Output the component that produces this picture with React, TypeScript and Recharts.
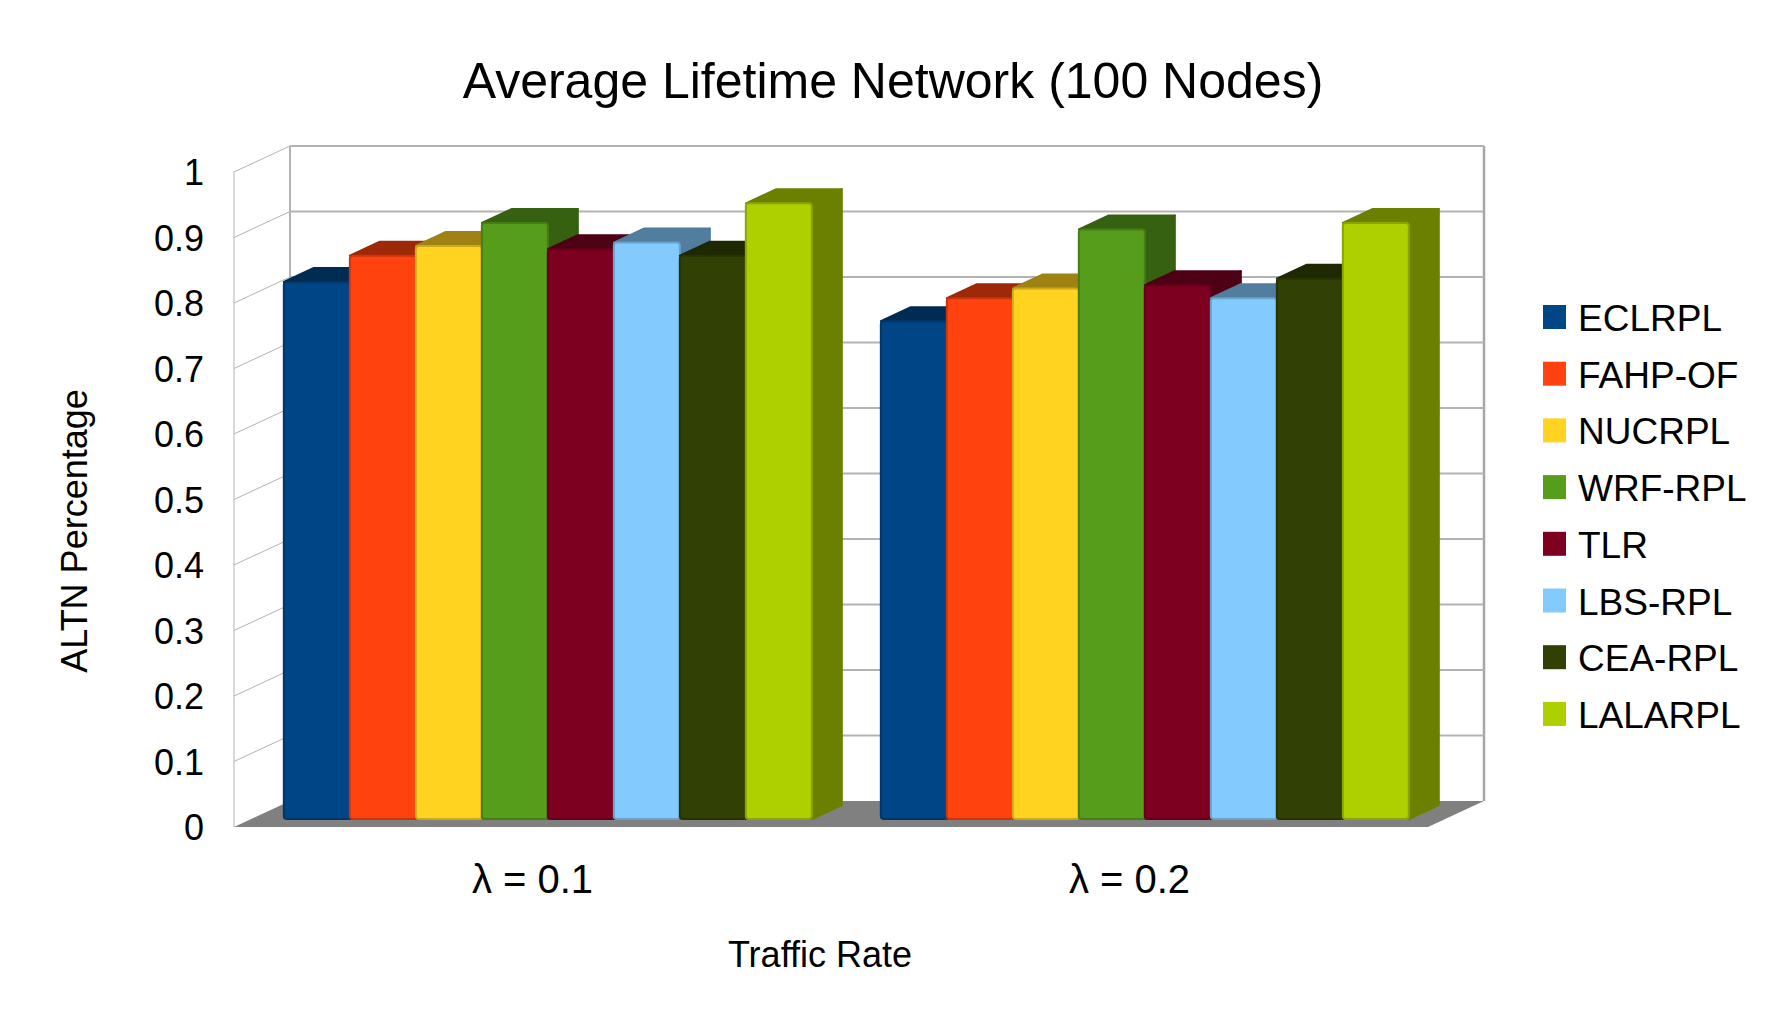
import React from 'react';
import { BarChart, Bar, XAxis, YAxis, CartesianGrid } from 'recharts';

const categories = ['λ = 0.1', 'λ = 0.2'];
const seriesNames = ['ECLRPL', 'FAHP-OF', 'NUCRPL', 'WRF-RPL', 'TLR', 'LBS-RPL', 'CEA-RPL', 'LALARPL'];
const seriesColors = ['#004586', '#ff420e', '#ffd320', '#579d1c', '#7e0021', '#83caff', '#314004', '#aecf00'];

const eclrpl = [0.82, 0.76];
const fahpOf = [0.86, 0.795];
const nucrpl = [0.875, 0.81];
const wrfRpl = [0.91, 0.90];
const tlr = [0.87, 0.815];
const lbsRpl = [0.88, 0.795];
const ceaRpl = [0.86, 0.825];
const lalarpl = [0.94, 0.91];

const seriesValues = [eclrpl, fahpOf, nucrpl, wrfRpl, tlr, lbsRpl, ceaRpl, lalarpl];
const yTicks = [0, 0.1, 0.2, 0.3, 0.4, 0.5, 0.6, 0.7, 0.8, 0.9, 1];

const data = categories.map((name, i) => {
  const row: any = { name };
  seriesNames.forEach((s, k) => {
    row[s] = seriesValues[k][i];
  });
  return row;
});

const W = 1779;
const H = 1030;
const PLOT_TOP = 172;
const PLOT_BOTTOM = 827;
const PLOT_LEFT = 234;
const PLOT_RIGHT = 1428;
// depth of the back wall and of the bars
const DX = 56;
const DY = 26;
const BAR_DX = 17;
const BAR_DY = 8;
const TOP_DX = 30;
const TOP_DY = 14;
const FONT = '"Liberation Sans", Arial, sans-serif';

function darken(hex: string, f: number) {
  const n = parseInt(hex.slice(1), 16);
  const r = Math.round(((n >> 16) & 255) * f);
  const g = Math.round(((n >> 8) & 255) * f);
  const b = Math.round((n & 255) * f);
  return `rgb(${r},${g},${b})`;
}

function Bar3D(props: any) {
  const { x, y, width, height, fill } = props;
  if (!height || height <= 0) return null;
  const fx = x + BAR_DX;
  const fy = y - BAR_DY;
  const w = width;
  const dark = darken(fill, 0.62);
  const edge = darken(fill, 0.8);
  return (
    <g>
      <polygon
        points={`${fx},${fy} ${fx + TOP_DX},${fy - TOP_DY} ${fx + w + TOP_DX},${fy - TOP_DY} ${fx + w},${fy}`}
        fill={dark}
        stroke={dark}
        strokeLinejoin="round"
        strokeWidth={2}
      />
      <polygon
        points={`${fx + w},${fy} ${fx + w + TOP_DX},${fy - TOP_DY} ${fx + w + TOP_DX},${fy + height - TOP_DY} ${fx + w},${fy + height}`}
        fill={dark}
        stroke={dark}
        strokeLinejoin="round"
        strokeWidth={2}
      />
      <rect x={fx} y={fy} width={w} height={height} rx={3} fill={fill} stroke={edge} strokeWidth={2} />
    </g>
  );
}

function GridLine(p: any) {
  const { x1, x2, y1 } = p;
  const key = `g-${p.index}-${y1}`;
  if (Math.abs(y1 - PLOT_BOTTOM) < 1) {
    return (
      <g key={key}>
        <line x1={x1} y1={PLOT_TOP} x2={x1} y2={PLOT_BOTTOM} stroke="#b3b3b3" strokeWidth={1} />
        <line x1={x1 + DX} y1={PLOT_TOP - DY} x2={x1 + DX} y2={PLOT_BOTTOM - DY} stroke="#b3b3b3" strokeWidth={2} />
        <line x1={x2 + DX} y1={PLOT_TOP - DY} x2={x2 + DX} y2={PLOT_BOTTOM - DY} stroke="#a6a6a6" strokeWidth={2.5} />
        <polygon
          points={`${x1},${y1} ${x2},${y1} ${x2 + DX},${y1 - DY} ${x1 + DX},${y1 - DY}`}
          fill="#808080"
        />
      </g>
    );
  }
  return (
    <g key={key}>
      <line x1={x1} y1={y1} x2={x1 + DX} y2={y1 - DY} stroke="#b3b3b3" strokeWidth={1} />
      <line x1={x1 + DX} y1={y1 - DY} x2={x2 + DX} y2={y1 - DY} stroke="#b3b3b3" strokeWidth={2} />
    </g>
  );
}

function YTick(p: any) {
  return (
    <text x={204} y={p.y} dy={13} textAnchor="end" fontSize={36} fontFamily={FONT} fill="#000">
      {String(p.payload.value)}
    </text>
  );
}

function XTick(p: any) {
  return (
    <text x={p.x} y={893} textAnchor="middle" fontSize={40} fontFamily={FONT} fill="#000">
      {p.payload.value}
    </text>
  );
}

export default function App() {
  return (
    <div style={{ position: 'absolute', left: 0, top: 0, width: W, height: H, background: '#fff' }}>
      <BarChart
        width={W}
        height={H}
        data={data}
        margin={{ top: PLOT_TOP, right: W - PLOT_RIGHT, bottom: 0, left: 0 }}
        barCategoryGap="5.5%"
        barGap={0}
      >
        <CartesianGrid vertical={false} horizontal={GridLine} />
        <XAxis dataKey="name" height={H - PLOT_BOTTOM} axisLine={false} tickLine={false} tick={XTick} />
        <YAxis
          width={PLOT_LEFT}
          domain={[0, 1]}
          ticks={yTicks}
          interval={0}
          axisLine={false}
          tickLine={false}
          tick={YTick}
        />
        {seriesNames.map((s, k) => (
          <Bar key={s} dataKey={s} fill={seriesColors[k]} shape={Bar3D} isAnimationActive={false} />
        ))}
      </BarChart>
      <svg width={W} height={H} style={{ position: 'absolute', left: 0, top: 0, pointerEvents: 'none' }}>
        <text x={893} y={98} textAnchor="middle" fontSize={50} fontFamily={FONT} fill="#000">
          Average Lifetime Network (100 Nodes)
        </text>
        <text x={820} y={967} textAnchor="middle" fontSize={36} fontFamily={FONT} fill="#000">
          Traffic Rate
        </text>
        <text
          x={75}
          y={531}
          dy={12}
          textAnchor="middle"
          fontSize={36}
          fontFamily={FONT}
          fill="#000"
          transform="rotate(-90 75 531)"
        >
          ALTN Percentage
        </text>
        {seriesNames.map((s, k) => (
          <g key={s}>
            <rect x={1543} y={305 + k * 56.7} width={23} height={24} fill={seriesColors[k]} />
            <text x={1578} y={331 + k * 56.7} fontSize={37} fontFamily={FONT} fill="#000">
              {s}
            </text>
          </g>
        ))}
      </svg>
    </div>
  );
}
